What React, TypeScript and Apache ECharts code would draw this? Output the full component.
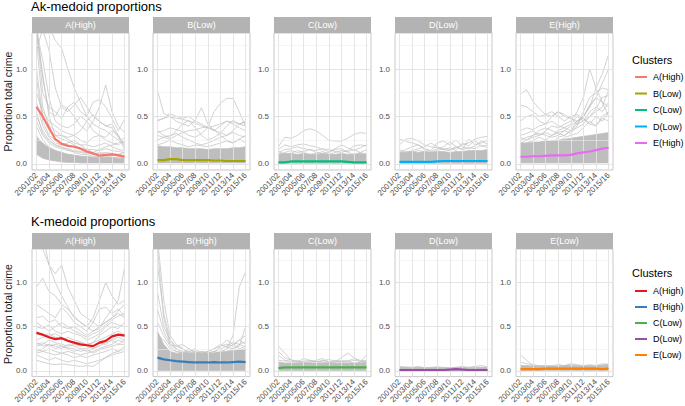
import React, { useEffect, useRef } from 'react';
import * as echarts from 'echarts';

const YEARS = ['2001/02', '2002/03', '2003/04', '2004/05', '2005/06', '2006/07', '2007/08', '2008/09', '2009/10', '2010/11', '2011/12', '2012/13', '2013/14', '2014/15', '2015/16'];
const TICK_LABELS = ['2001/02', '2003/04', '2005/06', '2007/08', '2009/10', '2011/12', '2013/14', '2015/16'];
const Y_TICKS = [0, 0.5, 1.0];
const Y_MINOR = [0.25, 0.75, 1.25];

const AK_TITLE = 'Ak-medoid proportions';
const K_TITLE = 'K-medoid proportions';
const AK_NAMES = ['A(High)', 'B(Low)', 'C(Low)', 'D(Low)', 'E(High)'];
const AK_COLORS = ['#F8766D', '#A3A500', '#00BF7D', '#00B0F6', '#E76BF3'];
const K_NAMES = ['A(High)', 'B(High)', 'C(Low)', 'D(Low)', 'E(Low)'];
const K_COLORS = ['#E41A1C', '#377EB8', '#4DAF4A', '#984EA3', '#FF7F00'];

// ---------- Ak-medoid row ----------
const AK_A_MEDOID = [0.60, 0.50, 0.38, 0.26, 0.21, 0.19, 0.18, 0.16, 0.13, 0.11, 0.085, 0.095, 0.10, 0.09, 0.075];
const AK_A_LOW = [0.10, 0.06, 0.04, 0.03, 0.02, 0.015, 0.015, 0.01, 0.01, 0.01, 0.01, 0.01, 0.01, 0.01, 0.01];
const AK_A_HIGH = [0.28, 0.22, 0.17, 0.14, 0.12, 0.10, 0.09, 0.08, 0.08, 0.07, 0.07, 0.07, 0.07, 0.06, 0.06];
const AK_A_LINES = [
  [1.6, 1.5, 1.45, 1.3, 1.22, 1.0, 0.8, 0.65, 0.5, 0.42, 0.38, 0.35, 0.3, 0.25, 0.22],
  [1.5, 0.9, 0.55, 0.5, 0.62, 0.58, 0.5, 0.4, 0.35, 0.45, 0.6, 0.83, 0.55, 0.4, 0.33],
  [1.45, 0.75, 0.6, 0.55, 0.48, 0.6, 0.65, 0.55, 0.5, 0.65, 0.68, 0.6, 0.48, 0.35, 0.47],
  [1.4, 1.1, 0.7, 0.45, 0.4, 0.38, 0.42, 0.5, 0.45, 0.35, 0.3, 0.28, 0.35, 0.3, 0.2],
  [1.3, 0.6, 0.4, 0.35, 0.3, 0.28, 0.3, 0.25, 0.22, 0.28, 0.3, 0.25, 0.22, 0.2, 0.25],
  [1.0, 0.5, 0.35, 0.3, 0.3, 0.26, 0.22, 0.2, 0.2, 0.18, 0.2, 0.22, 0.18, 0.15, 0.14],
  [0.9, 0.45, 0.3, 0.25, 0.22, 0.2, 0.18, 0.17, 0.15, 0.15, 0.14, 0.16, 0.14, 0.13, 0.12],
  [0.75, 0.55, 0.45, 0.4, 0.35, 0.32, 0.3, 0.35, 0.45, 0.52, 0.45, 0.4, 0.42, 0.3, 0.18],
  [1.2, 1.42, 1.2, 0.8, 0.6, 0.55, 0.62, 0.7, 0.6, 0.5, 0.45, 0.4, 0.38, 0.28, 0.15],
  [0.5, 0.35, 0.25, 0.2, 0.18, 0.15, 0.12, 0.1, 0.1, 0.08, 0.07, 0.08, 0.07, 0.06, 0.06],
  [0.4, 0.25, 0.18, 0.14, 0.12, 0.1, 0.09, 0.08, 0.06, 0.05, 0.05, 0.05, 0.04, 0.04, 0.04],
  [0.3, 0.2, 0.15, 0.12, 0.1, 0.08, 0.07, 0.06, 0.05, 0.04, 0.04, 0.03, 0.03, 0.03, 0.03],
  [0.65, 0.4, 0.28, 0.22, 0.2, 0.22, 0.25, 0.2, 0.15, 0.12, 0.15, 0.18, 0.2, 0.22, 0.28],
  [1.38, 0.95, 0.5, 0.3, 0.26, 0.24, 0.2, 0.16, 0.12, 0.1, 0.12, 0.1, 0.09, 0.1, 0.12],
  [0.45, 0.3, 0.22, 0.18, 0.16, 0.14, 0.13, 0.12, 0.11, 0.12, 0.1, 0.09, 0.1, 0.08, 0.07],
  [0.55, 0.32, 0.24, 0.2, 0.17, 0.16, 0.14, 0.13, 0.12, 0.1, 0.11, 0.12, 0.11, 0.1, 0.09],
];

const AK_B_MEDOID = [0.04, 0.04, 0.05, 0.05, 0.04, 0.04, 0.04, 0.04, 0.04, 0.035, 0.035, 0.03, 0.03, 0.03, 0.03];
const AK_B_LOW = [0.01, 0.01, 0.01, 0.01, 0.01, 0.01, 0.01, 0.01, 0.01, 0.01, 0.01, 0.01, 0.01, 0.01, 0.01];
const AK_B_HIGH = [0.19, 0.18, 0.18, 0.17, 0.17, 0.16, 0.16, 0.16, 0.15, 0.16, 0.16, 0.16, 0.17, 0.17, 0.18];
const AK_B_LINES = [
  [0.78, 0.53, 0.5, 0.48, 0.47, 0.45, 0.43, 0.4, 0.38, 0.35, 0.33, 0.3, 0.35, 0.42, 0.45],
  [0.3, 0.28, 0.26, 0.3, 0.33, 0.35, 0.36, 0.38, 0.39, 0.55, 0.64, 0.69, 0.69, 0.55, 0.39],
  [0.45, 0.48, 0.5, 0.45, 0.42, 0.4, 0.46, 0.59, 0.42, 0.35, 0.4, 0.45, 0.42, 0.38, 0.35],
  [0.46, 0.48, 0.53, 0.5, 0.48, 0.5, 0.45, 0.42, 0.38, 0.4, 0.42, 0.45, 0.44, 0.42, 0.4],
  [0.33, 0.35, 0.38, 0.36, 0.34, 0.3, 0.28, 0.32, 0.38, 0.36, 0.3, 0.25, 0.22, 0.26, 0.3],
  [0.25, 0.28, 0.3, 0.32, 0.28, 0.25, 0.22, 0.2, 0.22, 0.25, 0.28, 0.3, 0.33, 0.3, 0.28],
  [0.2, 0.22, 0.25, 0.22, 0.2, 0.18, 0.2, 0.19, 0.18, 0.2, 0.22, 0.24, 0.22, 0.26, 0.22],
  [0.35, 0.3, 0.28, 0.35, 0.42, 0.46, 0.38, 0.3, 0.25, 0.28, 0.32, 0.4, 0.46, 0.42, 0.44],
];

const AK_C_MEDOID = [0.015, 0.015, 0.025, 0.025, 0.025, 0.025, 0.025, 0.025, 0.025, 0.025, 0.025, 0.02, 0.015, 0.015, 0.015];
const AK_C_LOW = [0.005, 0.005, 0.005, 0.005, 0.005, 0.005, 0.005, 0.005, 0.005, 0.005, 0.005, 0.005, 0.005, 0.005, 0.005];
const AK_C_HIGH = [0.10, 0.11, 0.11, 0.10, 0.11, 0.10, 0.10, 0.11, 0.10, 0.10, 0.11, 0.10, 0.10, 0.11, 0.10];
const AK_C_LINES = [
  [0.18, 0.28, 0.27, 0.3, 0.35, 0.37, 0.35, 0.3, 0.25, 0.24, 0.24, 0.27, 0.31, 0.33, 0.32],
  [0.15, 0.2, 0.18, 0.2, 0.21, 0.19, 0.18, 0.15, 0.13, 0.16, 0.2, 0.17, 0.14, 0.17, 0.2],
  [0.12, 0.15, 0.16, 0.18, 0.16, 0.15, 0.14, 0.16, 0.15, 0.13, 0.12, 0.14, 0.19, 0.2, 0.19],
  [0.1, 0.12, 0.14, 0.12, 0.13, 0.15, 0.12, 0.11, 0.12, 0.15, 0.16, 0.12, 0.1, 0.12, 0.15],
  [0.13, 0.1, 0.11, 0.14, 0.12, 0.1, 0.11, 0.13, 0.1, 0.12, 0.14, 0.13, 0.15, 0.12, 0.1],
];

const AK_D_MEDOID = [0.02, 0.02, 0.02, 0.02, 0.02, 0.02, 0.025, 0.03, 0.03, 0.03, 0.03, 0.03, 0.03, 0.03, 0.03];
const AK_D_LOW = [0.005, 0.005, 0.005, 0.005, 0.005, 0.005, 0.005, 0.005, 0.005, 0.005, 0.005, 0.005, 0.005, 0.005, 0.005];
const AK_D_HIGH = [0.12, 0.12, 0.13, 0.12, 0.13, 0.12, 0.13, 0.13, 0.12, 0.13, 0.13, 0.14, 0.14, 0.14, 0.15];
const AK_D_LINES = [
  [0.2, 0.26, 0.27, 0.24, 0.2, 0.18, 0.17, 0.15, 0.14, 0.17, 0.2, 0.22, 0.26, 0.28, 0.29],
  [0.26, 0.24, 0.22, 0.2, 0.15, 0.13, 0.16, 0.18, 0.23, 0.18, 0.15, 0.26, 0.2, 0.22, 0.25],
  [0.12, 0.15, 0.18, 0.2, 0.16, 0.14, 0.22, 0.24, 0.2, 0.25, 0.18, 0.16, 0.19, 0.24, 0.21],
  [0.15, 0.12, 0.14, 0.16, 0.18, 0.22, 0.18, 0.15, 0.17, 0.14, 0.22, 0.19, 0.25, 0.18, 0.2],
  [0.1, 0.13, 0.12, 0.14, 0.13, 0.12, 0.14, 0.16, 0.15, 0.18, 0.15, 0.17, 0.16, 0.2, 0.17],
];

const AK_E_MEDOID = [0.075, 0.075, 0.08, 0.08, 0.085, 0.09, 0.09, 0.09, 0.095, 0.11, 0.12, 0.13, 0.145, 0.16, 0.17];
const AK_E_LOW = [0.01, 0.01, 0.01, 0.01, 0.01, 0.01, 0.01, 0.01, 0.01, 0.01, 0.01, 0.01, 0.01, 0.01, 0.01];
const AK_E_HIGH = [0.22, 0.22, 0.23, 0.23, 0.24, 0.24, 0.25, 0.26, 0.27, 0.28, 0.29, 0.3, 0.31, 0.32, 0.33];
const AK_E_LINES = [
  [0.74, 0.78, 0.66, 0.58, 0.52, 0.5, 0.55, 0.52, 0.48, 0.45, 0.5, 0.6, 0.7, 0.65, 0.6],
  [0.45, 0.5, 0.52, 0.45, 0.42, 0.5, 0.55, 0.5, 0.48, 0.42, 0.45, 0.5, 0.55, 0.6, 0.78],
  [0.3, 0.32, 0.35, 0.3, 0.35, 0.4, 0.38, 0.42, 0.45, 0.55, 0.7, 1.0, 0.8, 0.65, 0.5],
  [0.2, 0.22, 0.25, 0.28, 0.25, 0.3, 0.33, 0.35, 0.4, 0.45, 0.5, 0.6, 0.8, 0.95, 1.15],
  [0.25, 0.28, 0.3, 0.32, 0.3, 0.28, 0.3, 0.35, 0.32, 0.4, 0.55, 0.7, 0.75, 0.8, 0.78],
  [0.35, 0.38, 0.36, 0.4, 0.42, 0.45, 0.4, 0.38, 0.42, 0.5, 0.45, 0.55, 0.6, 0.55, 0.65],
  [0.2, 0.18, 0.22, 0.2, 0.25, 0.22, 0.28, 0.3, 0.35, 0.38, 0.42, 0.5, 0.58, 0.7, 0.72],
  [0.28, 0.25, 0.3, 0.35, 0.38, 0.35, 0.32, 0.3, 0.35, 0.45, 0.48, 0.42, 0.5, 0.45, 0.55],
  [0.15, 0.18, 0.2, 0.22, 0.2, 0.25, 0.22, 0.28, 0.3, 0.32, 0.38, 0.45, 0.4, 0.48, 0.45],
  [0.62, 0.6, 0.55, 0.5, 0.52, 0.55, 0.5, 0.45, 0.5, 0.52, 0.48, 0.42, 0.4, 0.5, 0.55],
  [0.22, 0.25, 0.28, 0.3, 0.33, 0.3, 0.35, 0.38, 0.35, 0.42, 0.5, 0.62, 0.7, 0.85, 1.0],
];

// ---------- K-medoid row ----------
const K_A_MEDOID = [0.43, 0.41, 0.38, 0.36, 0.37, 0.34, 0.32, 0.30, 0.29, 0.28, 0.32, 0.34, 0.39, 0.41, 0.40];
const K_A_LINES = [
  [1.5, 1.38, 1.2, 1.0, 0.85, 0.72, 0.6, 0.55, 0.5, 0.45, 0.48, 0.6, 0.7, 0.8, 1.17],
  [1.4, 1.55, 1.2, 1.1, 1.2, 0.95, 0.8, 0.65, 0.6, 0.55, 0.5, 0.55, 0.6, 0.65, 0.6],
  [0.95, 1.05, 0.9, 0.85, 0.75, 0.7, 0.62, 0.55, 0.5, 0.6, 0.8, 1.0, 0.85, 0.75, 0.8],
  [0.75, 0.7, 0.65, 0.6, 0.72, 0.65, 0.55, 0.5, 0.45, 0.55, 0.7, 0.72, 0.65, 0.7, 0.62],
  [0.6, 0.62, 0.55, 0.58, 0.5, 0.48, 0.5, 0.45, 0.4, 0.45, 0.5, 0.55, 0.6, 0.68, 0.75],
  [0.5, 0.48, 0.52, 0.45, 0.42, 0.45, 0.42, 0.4, 0.35, 0.38, 0.42, 0.5, 0.55, 0.52, 0.5],
  [0.35, 0.38, 0.4, 0.42, 0.38, 0.35, 0.3, 0.28, 0.3, 0.32, 0.4, 0.45, 0.5, 0.48, 0.55],
  [0.3, 0.32, 0.28, 0.3, 0.28, 0.25, 0.22, 0.25, 0.22, 0.25, 0.3, 0.35, 0.38, 0.4, 0.42],
  [0.25, 0.22, 0.25, 0.22, 0.2, 0.22, 0.2, 0.18, 0.2, 0.22, 0.25, 0.28, 0.3, 0.35, 0.32],
  [0.2, 0.22, 0.2, 0.18, 0.2, 0.18, 0.15, 0.17, 0.15, 0.18, 0.2, 0.22, 0.25, 0.22, 0.28],
  [0.12, 0.1, 0.08, 0.07, 0.08, 0.07, 0.06, 0.05, 0.06, 0.05, 0.1, 0.15, 0.2, 0.22, 0.25],
  [0.28, 0.3, 0.35, 0.32, 0.3, 0.28, 0.3, 0.32, 0.28, 0.25, 0.28, 0.32, 0.35, 0.38, 0.35],
  [0.45, 0.4, 0.42, 0.38, 0.35, 0.38, 0.35, 0.33, 0.3, 0.32, 0.35, 0.38, 0.42, 0.45, 0.4],
  [0.55, 0.5, 0.45, 0.5, 0.55, 0.5, 0.45, 0.42, 0.38, 0.42, 0.45, 0.52, 0.58, 0.62, 0.65],
  [0.18, 0.15, 0.12, 0.15, 0.12, 0.1, 0.12, 0.1, 0.08, 0.1, 0.12, 0.15, 0.18, 0.2, 0.22],
  [0.32, 0.28, 0.3, 0.28, 0.25, 0.3, 0.28, 0.25, 0.25, 0.28, 0.32, 0.3, 0.35, 0.3, 0.3],
  [0.22, 0.25, 0.3, 0.25, 0.28, 0.26, 0.25, 0.22, 0.24, 0.2, 0.24, 0.26, 0.28, 0.3, 0.35],
];

const K_B_MEDOID = [0.15, 0.13, 0.12, 0.11, 0.105, 0.10, 0.095, 0.095, 0.095, 0.10, 0.095, 0.095, 0.10, 0.105, 0.10];
const K_B_LOW = [0.005, 0.005, 0.005, 0.005, 0.005, 0.005, 0.005, 0.005, 0.005, 0.005, 0.005, 0.005, 0.005, 0.005, 0.005];
const K_B_HIGH = [0.45, 0.3, 0.22, 0.2, 0.2, 0.2, 0.2, 0.2, 0.2, 0.2, 0.21, 0.22, 0.23, 0.24, 0.25];
const K_B_LINES = [
  [1.5, 0.8, 0.4, 0.3, 0.25, 0.2, 0.18, 0.2, 0.18, 0.2, 0.22, 0.25, 0.4, 0.95, 1.12],
  [1.4, 0.6, 0.3, 0.25, 0.22, 0.2, 0.22, 0.18, 0.2, 0.22, 0.2, 0.25, 0.3, 0.35, 0.4],
  [0.9, 0.5, 0.35, 0.25, 0.2, 0.22, 0.25, 0.2, 0.22, 0.25, 0.28, 0.3, 0.28, 0.35, 0.3],
  [0.7, 0.45, 0.3, 0.28, 0.25, 0.22, 0.2, 0.22, 0.2, 0.2, 0.28, 0.35, 0.3, 0.25, 0.28],
  [0.55, 0.4, 0.28, 0.22, 0.2, 0.25, 0.2, 0.18, 0.2, 0.22, 0.25, 0.28, 0.32, 0.3, 0.33],
  [1.2, 0.65, 0.35, 0.28, 0.3, 0.25, 0.22, 0.2, 0.22, 0.25, 0.3, 0.27, 0.25, 0.3, 0.27],
  [0.4, 0.35, 0.25, 0.22, 0.2, 0.2, 0.18, 0.22, 0.2, 0.18, 0.2, 0.22, 0.25, 0.28, 0.5],
];

const K_C_MEDOID = [0.03, 0.04, 0.04, 0.04, 0.04, 0.04, 0.04, 0.04, 0.04, 0.04, 0.04, 0.04, 0.04, 0.04, 0.04];
const K_C_LOW = [0.005, 0.005, 0.005, 0.005, 0.005, 0.005, 0.005, 0.005, 0.005, 0.005, 0.005, 0.005, 0.005, 0.005, 0.005];
const K_C_HIGH = [0.10, 0.09, 0.09, 0.09, 0.09, 0.09, 0.09, 0.09, 0.09, 0.09, 0.09, 0.09, 0.09, 0.09, 0.10];
const K_C_LINES = [
  [0.28, 0.2, 0.12, 0.1, 0.14, 0.12, 0.1, 0.12, 0.1, 0.12, 0.1, 0.12, 0.08, 0.1, 0.18],
  [0.22, 0.15, 0.12, 0.1, 0.09, 0.1, 0.11, 0.1, 0.09, 0.1, 0.15, 0.2, 0.15, 0.1, 0.12],
  [0.18, 0.12, 0.1, 0.12, 0.1, 0.1, 0.12, 0.14, 0.1, 0.1, 0.12, 0.1, 0.12, 0.11, 0.1],
  [0.12, 0.11, 0.13, 0.1, 0.11, 0.12, 0.1, 0.11, 0.13, 0.11, 0.1, 0.11, 0.14, 0.12, 0.11],
];

const K_D_MEDOID = [0.01, 0.01, 0.01, 0.01, 0.01, 0.01, 0.01, 0.01, 0.015, 0.02, 0.015, 0.01, 0.01, 0.01, 0.01];
const K_D_LOW = [0.0, 0.0, 0.0, 0.0, 0.0, 0.0, 0.0, 0.0, 0.0, 0.0, 0.0, 0.0, 0.0, 0.0, 0.0];
const K_D_HIGH = [0.04, 0.04, 0.035, 0.04, 0.035, 0.035, 0.04, 0.035, 0.035, 0.04, 0.04, 0.035, 0.04, 0.04, 0.04];
const K_D_LINES = [
  [0.05, 0.045, 0.04, 0.05, 0.035, 0.04, 0.045, 0.04, 0.035, 0.04, 0.05, 0.04, 0.05, 0.06, 0.045],
];

const K_E_MEDOID = [0.02, 0.02, 0.02, 0.02, 0.025, 0.025, 0.025, 0.025, 0.025, 0.025, 0.025, 0.025, 0.025, 0.02, 0.025];
const K_E_LOW = [0.005, 0.005, 0.005, 0.005, 0.005, 0.005, 0.005, 0.005, 0.005, 0.005, 0.005, 0.005, 0.005, 0.005, 0.005];
const K_E_HIGH = [0.06, 0.06, 0.055, 0.055, 0.055, 0.055, 0.055, 0.06, 0.06, 0.055, 0.055, 0.055, 0.055, 0.06, 0.07];
const K_E_LINES = [
  [0.18, 0.12, 0.06, 0.05, 0.06, 0.05, 0.05, 0.06, 0.07, 0.06, 0.05, 0.06, 0.05, 0.07, 0.08],
  [0.1, 0.08, 0.07, 0.06, 0.05, 0.06, 0.07, 0.06, 0.08, 0.07, 0.06, 0.07, 0.06, 0.08, 0.07],
];

type Panel = { medoid: number[]; low?: number[]; high?: number[]; lines: number[][] };

const ROWS: { title: string; names: string[]; colors: string[]; panels: Panel[] }[] = [
  {
    title: AK_TITLE, names: AK_NAMES, colors: AK_COLORS,
    panels: [
      { medoid: AK_A_MEDOID, low: AK_A_LOW, high: AK_A_HIGH, lines: AK_A_LINES },
      { medoid: AK_B_MEDOID, low: AK_B_LOW, high: AK_B_HIGH, lines: AK_B_LINES },
      { medoid: AK_C_MEDOID, low: AK_C_LOW, high: AK_C_HIGH, lines: AK_C_LINES },
      { medoid: AK_D_MEDOID, low: AK_D_LOW, high: AK_D_HIGH, lines: AK_D_LINES },
      { medoid: AK_E_MEDOID, low: AK_E_LOW, high: AK_E_HIGH, lines: AK_E_LINES },
    ],
  },
  {
    title: K_TITLE, names: K_NAMES, colors: K_COLORS,
    panels: [
      { medoid: K_A_MEDOID, lines: K_A_LINES },
      { medoid: K_B_MEDOID, low: K_B_LOW, high: K_B_HIGH, lines: K_B_LINES },
      { medoid: K_C_MEDOID, low: K_C_LOW, high: K_C_HIGH, lines: K_C_LINES },
      { medoid: K_D_MEDOID, low: K_D_LOW, high: K_D_HIGH, lines: K_D_LINES },
      { medoid: K_E_MEDOID, low: K_E_LOW, high: K_E_HIGH, lines: K_E_LINES },
    ],
  },
];

// layout
const FONT = '"Liberation Sans", Arial, sans-serif';
const PANEL_LEFTS = [32, 153, 274, 395, 516];
const PANEL_W = 97;
const ROW_LAYOUT = [
  { titleY: 7, stripTop: 17, plotTop: 33, plotH: 137, legendTitleY: 60, legendY0: 77, legendStep: 16.5, legendX: 632 },
  { titleY: 222, stripTop: 233, plotTop: 249, plotH: 130, legendTitleY: 273, legendY0: 291, legendStep: 16, legendX: 632 },
];
const STRIP_H = 16;
const GREY = '#bebebe';

export default function App() {
  const ref = useRef<HTMLDivElement>(null);
  useEffect(() => {
    if (!ref.current) return;
    const chart = echarts.init(ref.current, undefined, { renderer: 'svg' });
    const grids: any[] = [];
    const xAxes: any[] = [];
    const yAxes: any[] = [];
    const series: any[] = [];
    const graphic: any[] = [];
    const tickIdx = TICK_LABELS.map((t) => YEARS.indexOf(t));

    ROWS.forEach((row, r) => {
      const L = ROW_LAYOUT[r];
      graphic.push({
        type: 'text', left: 31, top: L.titleY - 7,
        style: { text: row.title, font: `13px ${FONT}`, fill: '#000' },
      });
      const plotMid = L.plotTop + L.plotH / 2;
      graphic.push({
        type: 'text', x: 8, y: plotMid, rotation: Math.PI / 2,
        style: { text: 'Proportion total crime', font: `10.5px ${FONT}`, fill: '#1a1a1a', align: 'center', verticalAlign: 'middle' },
      });
      graphic.push({
        type: 'text', x: L.legendX, y: L.legendTitleY,
        style: { text: 'Clusters', font: `11px ${FONT}`, fill: '#000', align: 'left', verticalAlign: 'middle' },
      });
      row.names.forEach((nm, k) => {
        const y = L.legendY0 + k * L.legendStep;
        graphic.push({
          type: 'line', shape: { x1: L.legendX + 3, y1: y, x2: L.legendX + 15, y2: y },
          style: { stroke: row.colors[k], lineWidth: 2 },
        });
        graphic.push({
          type: 'text', x: L.legendX + 21, y,
          style: { text: nm, font: `9px ${FONT}`, fill: '#000', align: 'left', verticalAlign: 'middle' },
        });
      });

      row.panels.forEach((p, c) => {
        const idx = r * 5 + c;
        const left = PANEL_LEFTS[c];
        graphic.push({
          type: 'rect', shape: { x: left, y: L.stripTop, width: PANEL_W, height: STRIP_H },
          style: { fill: '#b3b3b3' }, z: 10,
        });
        graphic.push({
          type: 'text', x: left + PANEL_W / 2, y: L.stripTop + STRIP_H / 2, z: 11,
          style: { text: row.names[c], font: `9px ${FONT}`, fill: '#ffffff', align: 'center', verticalAlign: 'middle' },
        });
        grids.push({
          left, top: L.plotTop, width: PANEL_W, height: L.plotH,
          show: true, borderColor: '#c8c8c8', borderWidth: 1, backgroundColor: '#fff',
        });
        xAxes.push({
          type: 'value', gridIndex: idx, min: -0.7, max: 14.7,
          axisLine: { show: false }, splitLine: { show: false },
          axisTick: { show: true, customValues: tickIdx, length: 3, lineStyle: { color: '#b3b3b3' } },
          axisLabel: {
            customValues: tickIdx, rotate: 45, margin: 4, fontSize: 8, color: '#4d4d4d', fontFamily: FONT,
            formatter: (v: number) => YEARS[Math.round(v)] ?? '',
          },
        });
        yAxes.push({
          type: 'value', gridIndex: idx, min: -0.065, max: 1.38,
          axisLine: { show: false }, splitLine: { show: false },
          axisTick: { show: true, customValues: Y_TICKS, length: 3, lineStyle: { color: '#b3b3b3' } },
          axisLabel: {
            customValues: Y_TICKS, margin: 5, fontSize: 8, color: '#4d4d4d', fontFamily: FONT,
            formatter: (v: number) => v.toFixed(1),
          },
        });
        const ml: any[] = [];
        tickIdx.forEach((t) => ml.push({ xAxis: t, lineStyle: { color: '#e2e2e2', width: 0.9 } }));
        Y_TICKS.forEach((t) => ml.push({ yAxis: t, lineStyle: { color: '#e2e2e2', width: 0.9 } }));
        Y_MINOR.forEach((t) => ml.push({ yAxis: t, lineStyle: { color: '#efefef', width: 0.6 } }));
        series.push({
          type: 'line', xAxisIndex: idx, yAxisIndex: idx, data: [[0, -1]], silent: true, z: 1,
          symbol: 'none', lineStyle: { opacity: 0 },
          markLine: { silent: true, symbol: ['none', 'none'], label: { show: false }, lineStyle: { type: 'solid' }, data: ml, animation: false },
        });
        if (p.low && p.high) {
          const low = p.low;
          const high = p.high;
          series.push({
            type: 'custom', xAxisIndex: idx, yAxisIndex: idx, silent: true, z: 2,
            data: [[0, 0]],
            renderItem: (params: any, api: any) => {
              const pts: number[][] = [];
              high.forEach((v, i) => pts.push(api.coord([i, v])));
              for (let i = low.length - 1; i >= 0; i--) pts.push(api.coord([i, low[i]]));
              return {
                type: 'polygon', shape: { points: pts },
                style: { fill: GREY, stroke: GREY, lineWidth: 0.7 },
              };
            },
          });
        }
        p.lines.forEach((ln) => {
          series.push({
            type: 'line', xAxisIndex: idx, yAxisIndex: idx, silent: true, z: 3,
            symbol: 'none', lineStyle: { color: GREY, width: 0.7 },
            data: ln.map((v, i) => [i, v]),
          });
        });
        series.push({
          type: 'line', xAxisIndex: idx, yAxisIndex: idx, silent: true, z: 5,
          symbol: 'none', lineStyle: { color: row.colors[c], width: 2.2 },
          data: p.medoid.map((v, i) => [i, v]),
        });
      });
    });

    chart.setOption({
      animation: false,
      backgroundColor: '#fff',
      grid: grids,
      xAxis: xAxes,
      yAxis: yAxes,
      series,
      graphic,
    });
    return () => chart.dispose();
  }, []);
  return <div ref={ref} style={{ width: 685, height: 406, position: 'absolute', left: 0, top: 0 }} />;
}
